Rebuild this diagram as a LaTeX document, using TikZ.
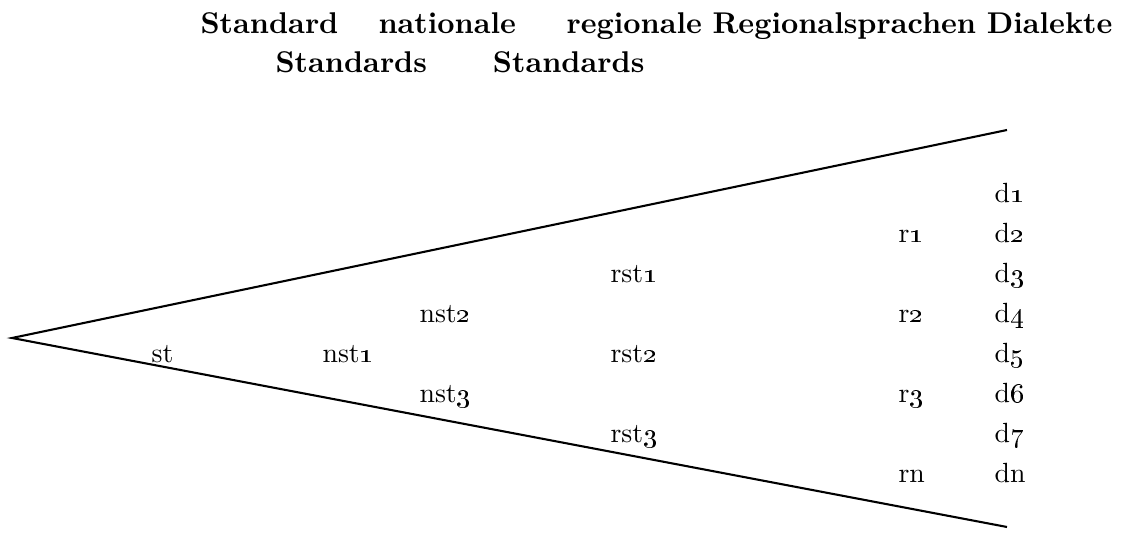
\documentclass[tikz,border=0pt]{standalone}
\begin{document}
\begin{tikzpicture}[x=0.36pt, y=-0.36pt,
  head/.style={inner sep=0pt, font=\fontsize{10.8}{13}\selectfont\bfseries},
  lab/.style={inner sep=0pt, anchor=base west, font=\fontsize{10}{12}\selectfont},
  edge/.style={line width=0.75pt, line join=miter}]
\useasboundingbox (0,0) rectangle (1134,533);

% column headings
\node[head, anchor=base west] (hst)  at (200,34) {Standard};
\node[head, anchor=base west] (hnat) at (378,34) {nationale};
\node[head, anchor=base west] (hreg) at (566,34) {regionale};
\node[head, anchor=base west] (hrs)  at (712,34) {Regionalsprachen};
\node[head, anchor=base east] (hdia) at (1113,34) {Dialekte};
\node[head, anchor=base west] (hnat2) at (275,73) {Standards};
\node[head, anchor=base east] (hreg2) at (645,73) {Standards};

% the fan
\coordinate (apex) at (12,338);
\coordinate (topend) at (1007,130);
\coordinate (botend) at (1007,527);
\draw[edge] (topend) -- (apex) -- (botend);

% varieties
\node[lab] (st)   at (151,363) {st};
\node[lab] (nst1) at (322,363) {nst\oldstylenums{1}};
\node[lab] (nst2) at (419,323) {nst\oldstylenums{2}};
\node[lab] (nst3) at (419,403) {nst\oldstylenums{3}};
\node[lab] (rst1) at (610,283) {rst\oldstylenums{1}};
\node[lab] (rst2) at (610,363) {rst\oldstylenums{2}};
\node[lab] (rst3) at (610,443) {rst\oldstylenums{3}};
\node[lab] (r1) at (898,243) {r\oldstylenums{1}};
\node[lab] (r2) at (898,323) {r\oldstylenums{2}};
\node[lab] (r3) at (898,403) {r\oldstylenums{3}};
\node[lab] (rn) at (898,483) {rn};
\node[lab] (d1) at (994,203) {d\oldstylenums{1}};
\node[lab] (d2) at (994,243) {d\oldstylenums{2}};
\node[lab] (d3) at (994,283) {d\oldstylenums{3}};
\node[lab] (d4) at (994,323) {d\oldstylenums{4}};
\node[lab] (d5) at (994,363) {d\oldstylenums{5}};
\node[lab] (d6) at (994,403) {d\oldstylenums{6}};
\node[lab] (d7) at (994,443) {d\oldstylenums{7}};
\node[lab] (dn) at (994,483) {dn};
\end{tikzpicture}
\end{document}
